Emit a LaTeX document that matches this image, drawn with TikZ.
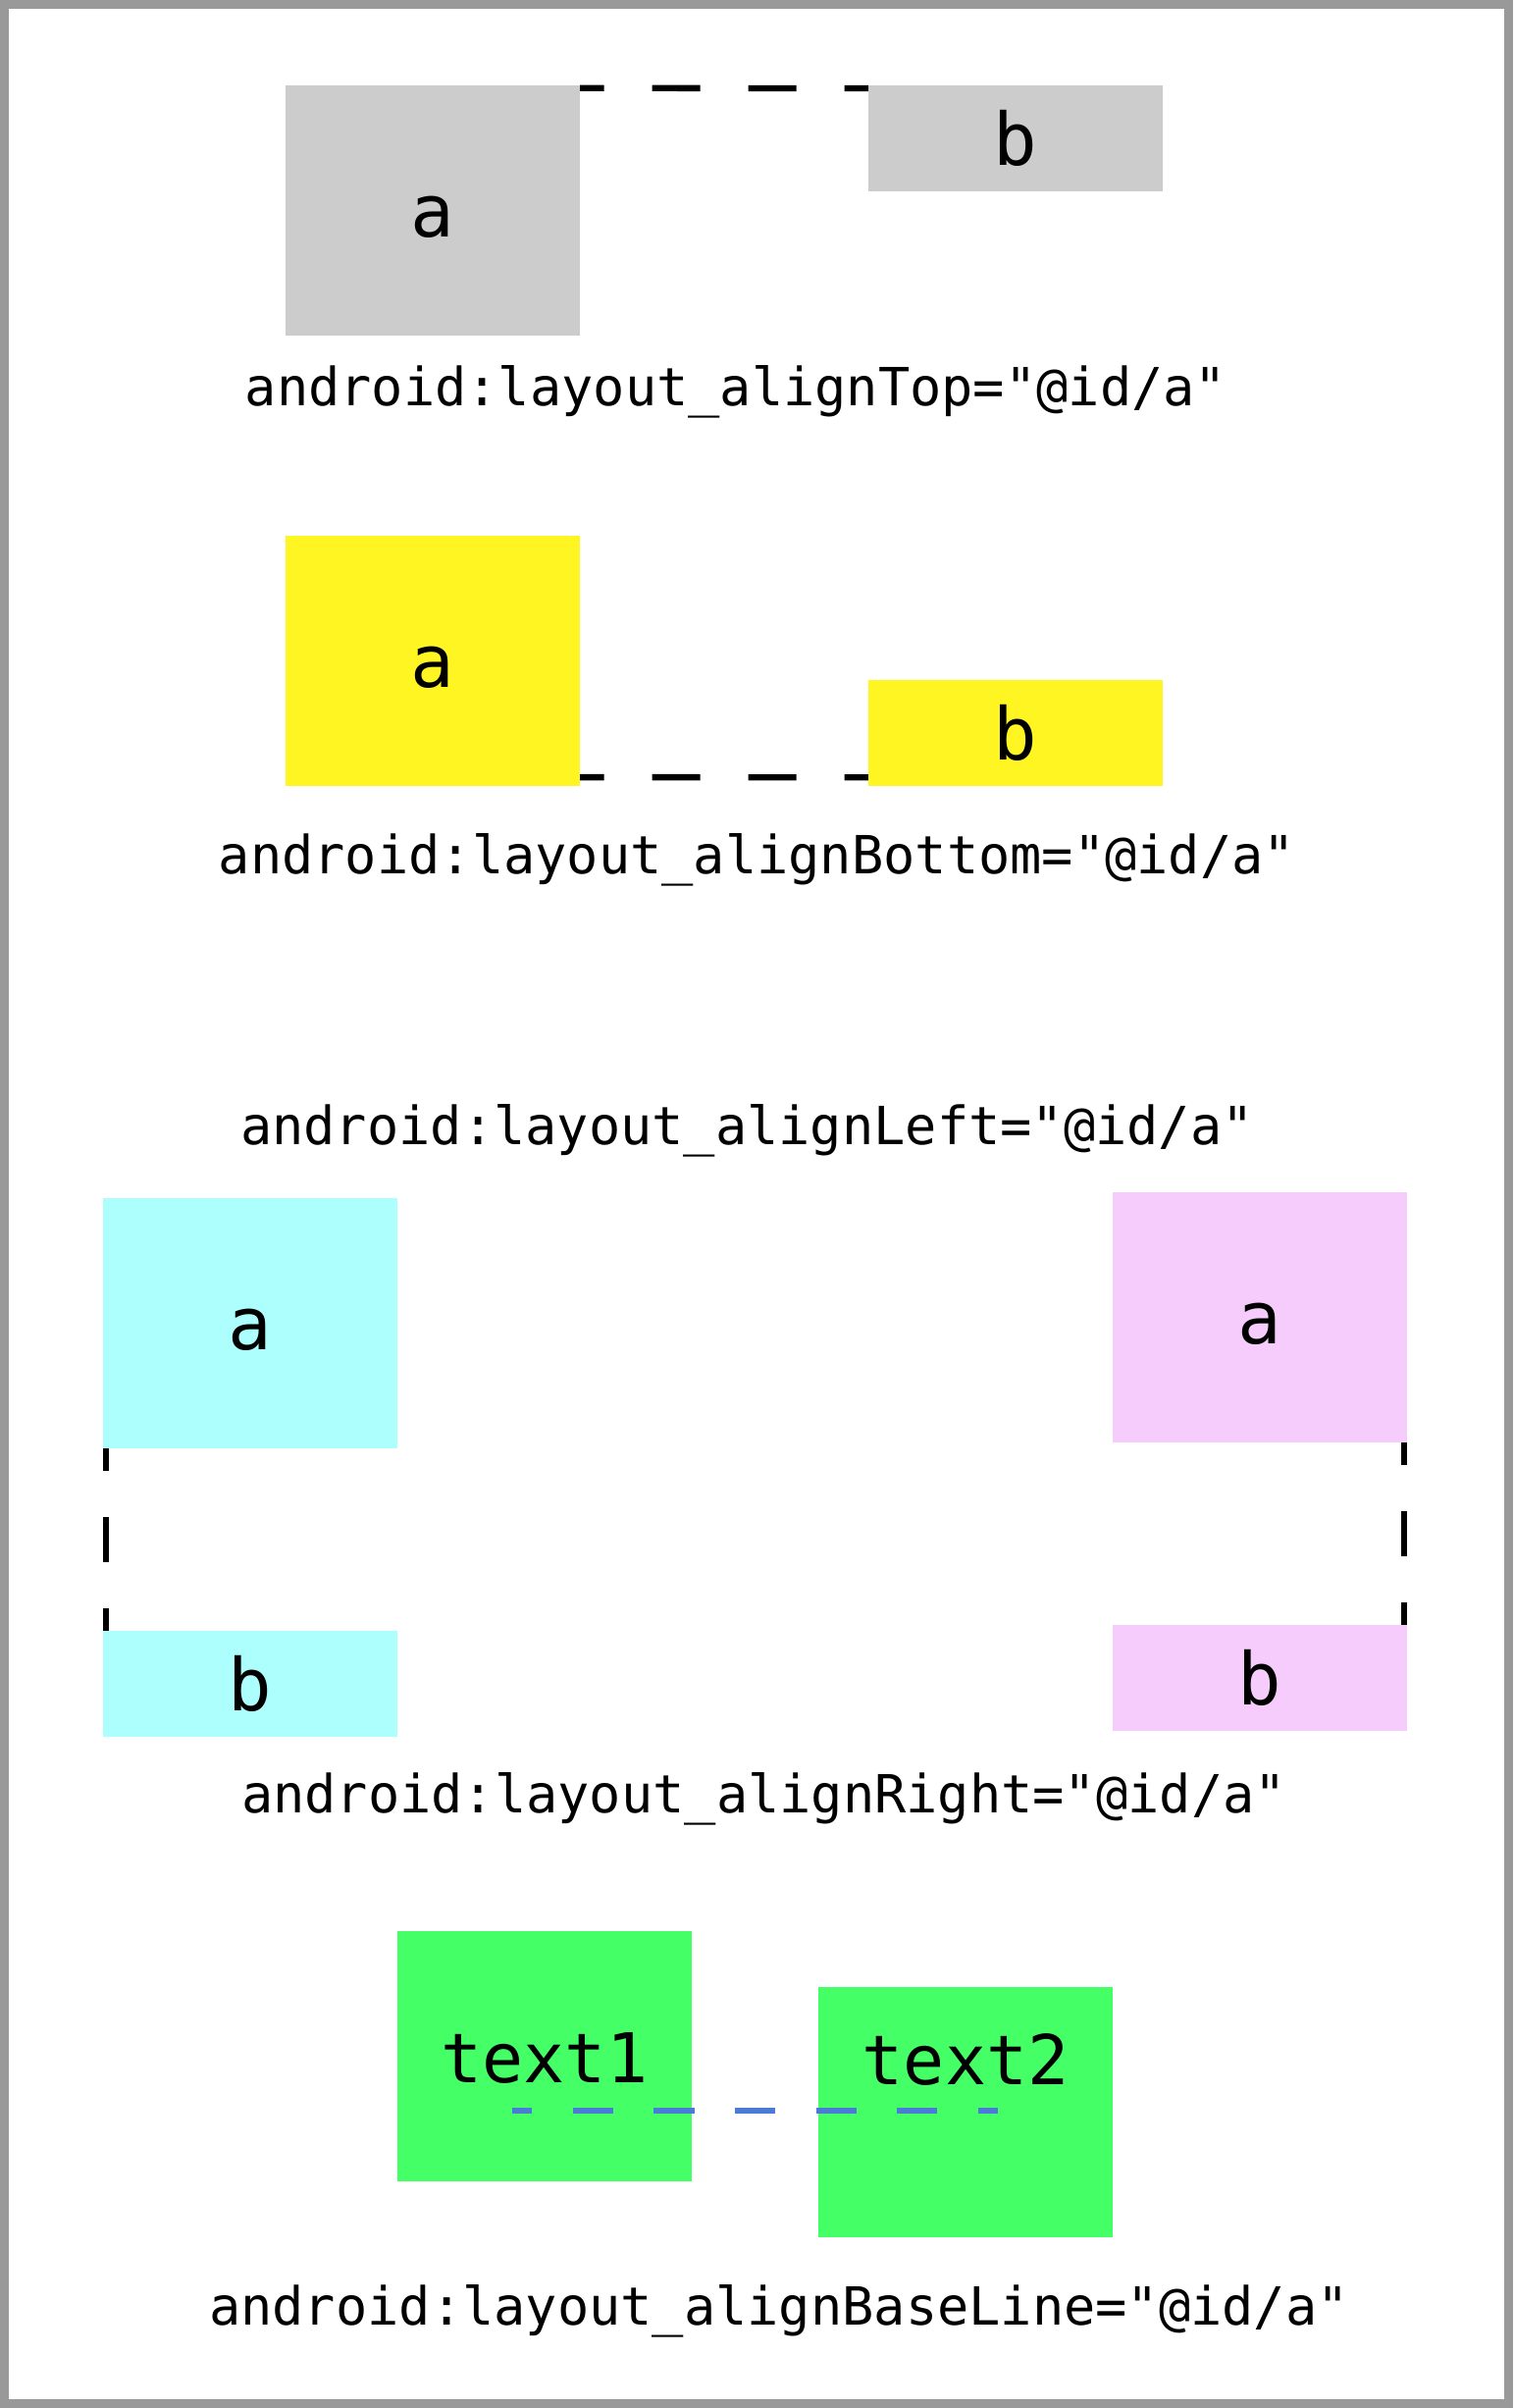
\documentclass[tikz,border=0pt]{standalone}
\usepackage{fontspec}
\setmonofont{DejaVu Sans Mono}
\usetikzlibrary{calc}
\definecolor{framegray}{HTML}{999999}
\definecolor{boxgray}{HTML}{CCCCCC}
\definecolor{boxyellow}{HTML}{FFF522}
\definecolor{boxcyan}{HTML}{ADFFFD}
\definecolor{boxpink}{HTML}{F6CCFC}
\definecolor{boxgreen}{HTML}{44FF66}
\definecolor{baseblue}{HTML}{4A7BD6}
\begin{document}
\begin{tikzpicture}[x=1pt,y=-1pt,
  bigbox/.style={rectangle, draw=none, inner sep=0pt, minimum width=300pt, minimum height=255pt,
    text height=55pt, text depth=0pt, font=\ttfamily\fontsize{74}{80}\selectfont},
  smallbox/.style={bigbox, minimum height=107.6pt},
  txtbox/.style={bigbox, font=\ttfamily\fontsize{70}{80}\selectfont},
  code/.style={anchor=base, inner sep=0pt, font=\ttfamily\fontsize{53.6}{60}\selectfont},
  hdash/.style={draw=black, line width=6.3pt, dash pattern=on 49pt off 49pt, dash phase=24.5pt},
  vdash/.style={draw=black, line width=6pt, dash pattern=on 46.5pt off 46.5pt, dash phase=23.25pt},
  bdash/.style={draw=baseblue, line width=5.7pt, dash pattern=on 41.3pt off 41.3pt, dash phase=20.65pt}
]
\useasboundingbox (0,0) rectangle (1542,2454);
\fill[framegray] (0,0) rectangle (1542,2454);
\fill[white] (9,9) rectangle (1533,2445);

% alignTop
\node[bigbox, fill=boxgray] (ga) at (441,214.3) {a};
\node[smallbox, fill=boxgray] (gb) at (1035,140.9) {b};
\draw[hdash] ($(ga.north east)+(0,3.15)$) -- ($(gb.north west)+(0,3.15)$);
\node[code] (l1) at (750,413) {android:layout\_alignTop="@id/a"};

% alignBottom
\node[bigbox, fill=boxyellow] (ya) at (441,673.4) {a};
\node[smallbox, fill=boxyellow] (yb) at (1035,747.2) {b};
\draw[hdash] ($(ya.south east)+(0,-9)$) -- ($(yb.south west)+(0,-9)$);
\node[code] (l2) at (771.5,890) {android:layout\_alignBottom="@id/a"};

% alignLeft
\node[code] (l3) at (761.5,1166.7) {android:layout\_alignLeft="@id/a"};
\node[bigbox, fill=boxcyan] (ca) at (254.7,1348.4) {a};
\node[smallbox, fill=boxcyan] (cb) at (254.7,1715.9) {b};
\draw[vdash] ($(ca.south west)+(3,0)$) -- ($(cb.north west)+(3,0)$);

% alignRight
\node[bigbox, fill=boxpink] (pa) at (1283.8,1342.3) {a};
\node[smallbox, fill=boxpink] (pb) at (1283.8,1709.8) {b};
\draw[vdash] ($(pa.south east)+(-3.2,0)$) -- ($(pb.north east)+(-3.2,0)$);
\node[code] (l4) at (778.5,1847.7) {android:layout\_alignRight="@id/a"};

% alignBaseLine
\node[txtbox, fill=boxgreen] (t1) at (554.9,2095.4) {text1};
\node[txtbox, fill=boxgreen, text height=0pt, text depth=56pt] (t2) at (984.1,2152.4) {text2};
\draw[bdash] ($(t1.center)+(-33.1,55.6)$) -- ($(t2.center)+(33.1,-1.4)$);
\node[code] (l5) at (794,2369) {android:layout\_alignBaseLine="@id/a"};
\end{tikzpicture}
\end{document}
